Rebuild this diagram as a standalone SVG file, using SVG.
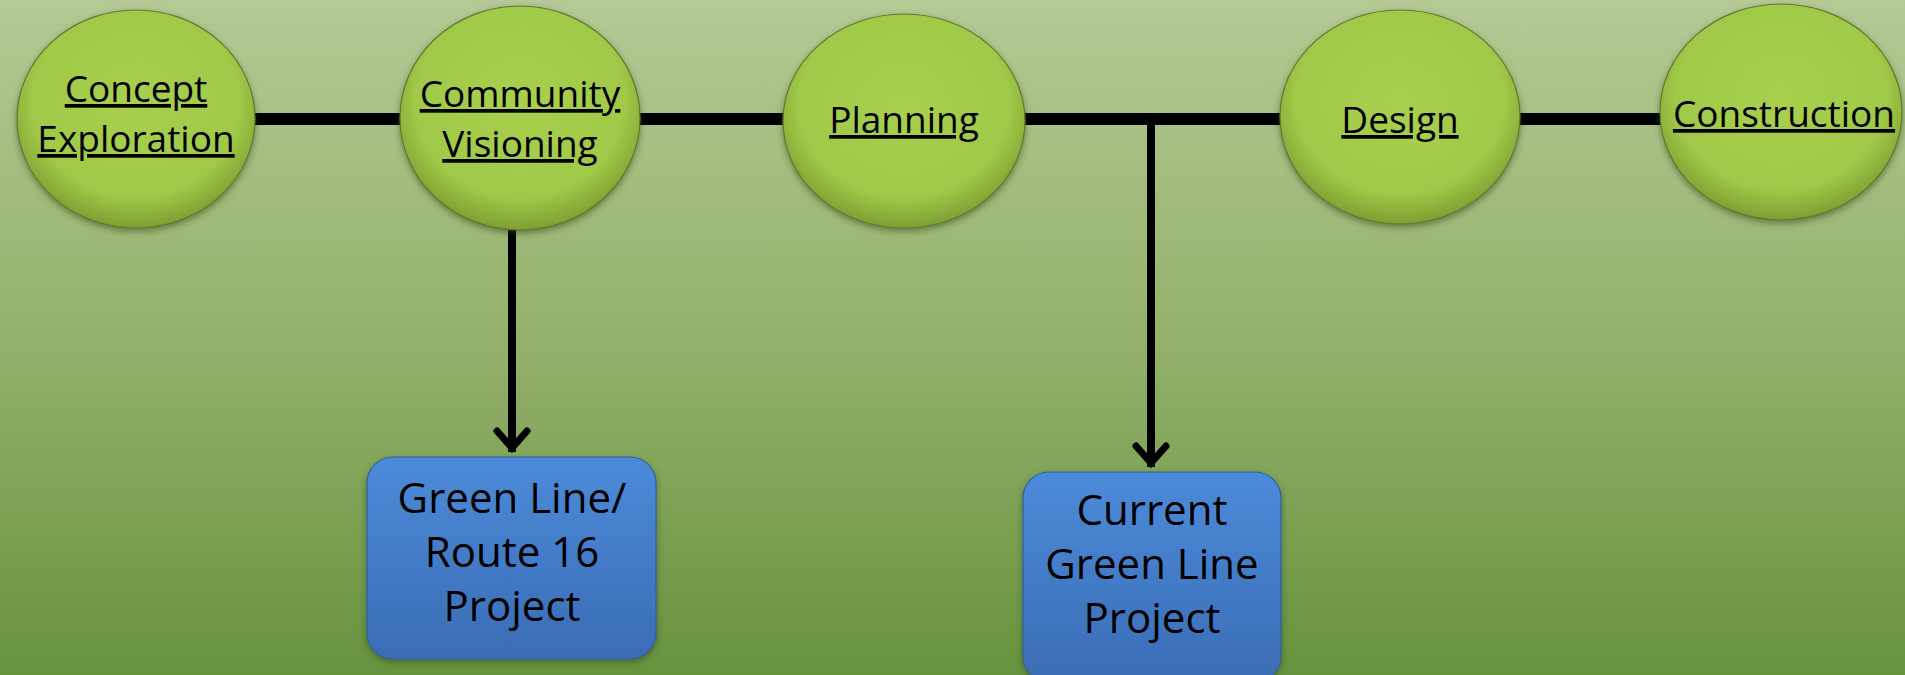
<svg xmlns="http://www.w3.org/2000/svg" width="1905" height="675" viewBox="0 0 1905 675">
<defs>
<linearGradient id="bg" x1="0" y1="0" x2="0" y2="1">
<stop offset="0" stop-color="#b4c995"/>
<stop offset="0.45" stop-color="#98b46f"/>
<stop offset="1" stop-color="#67933f"/>
</linearGradient>
<radialGradient id="ball" cx="0.5" cy="0.42" r="0.58">
<stop offset="0" stop-color="#a8d04e"/>
<stop offset="0.75" stop-color="#a0c948"/>
<stop offset="1" stop-color="#7f9f32"/>
</radialGradient>
<linearGradient id="box" x1="0" y1="0" x2="0" y2="1">
<stop offset="0" stop-color="#4c8bd9"/>
<stop offset="1" stop-color="#3a6cb5"/>
</linearGradient>
<filter id="sh" x="-20%" y="-20%" width="140%" height="140%">
<feDropShadow dx="0" dy="3" stdDeviation="3" flood-color="#2a3a10" flood-opacity="0.5"/>
</filter>
<marker id="arr" viewBox="0 0 30 40" refX="25" refY="20" markerUnits="userSpaceOnUse" markerWidth="30" markerHeight="40" orient="auto">
<path d="M4,5 L21,20 L4,35" fill="none" stroke="#000" stroke-width="7" stroke-linecap="round" stroke-linejoin="miter"/>
</marker>
</defs>
<style>
.node ellipse{fill:url(#ball);stroke:#5f7a2a;stroke-width:1.2;filter:url(#sh)}
.node rect{fill:url(#box);stroke:#34619e;stroke-width:1.2;filter:url(#sh)}
.lbl{font-family:"Open Sans","Liberation Sans",sans-serif;font-size:37px;fill:#000;text-anchor:middle;text-decoration:underline}
.blbl{font-family:"Open Sans","Liberation Sans",sans-serif;font-size:42px;fill:#000;text-anchor:middle}
.main{stroke:#000;stroke-width:12;fill:none}
.drop{stroke:#000;stroke-width:8;fill:none}
</style>
<rect x="0" y="0" width="1905" height="675" fill="url(#bg)"/>
<g id="connectors">
<line class="main" x1="250" y1="119" x2="1670" y2="119"/>
<line class="drop" x1="512" y1="228" x2="512" y2="452" marker-end="url(#arr)"/>
<line class="drop" x1="1151" y1="119" x2="1151" y2="467" marker-end="url(#arr)"/>
</g>
<g id="concept" class="node">
<ellipse cx="136" cy="119" rx="119" ry="109"/>
<text class="lbl" x="136" y="102">Concept</text>
<text class="lbl" x="136" y="152">Exploration</text>
</g>
<g id="community" class="node">
<ellipse cx="520" cy="118" rx="120" ry="112"/>
<text class="lbl" x="520" y="107">Community</text>
<text class="lbl" x="520" y="157">Visioning</text>
</g>
<g id="planning" class="node">
<ellipse cx="904" cy="121" rx="121" ry="107"/>
<text class="lbl" x="904" y="133">Planning</text>
</g>
<g id="design" class="node">
<ellipse cx="1400" cy="117" rx="120" ry="107"/>
<text class="lbl" x="1400" y="133">Design</text>
</g>
<g id="construction" class="node">
<ellipse cx="1781" cy="112" rx="121" ry="108"/>
<text class="lbl" x="1784" y="127">Construction</text>
</g>
<g id="greenline16" class="node">
<rect x="367" y="457" width="289" height="202" rx="26"/>
<text class="blbl" x="512" y="513">Green Line/</text>
<text class="blbl" x="512" y="567">Route 16</text>
<text class="blbl" x="512" y="621">Project</text>
</g>
<g id="currentgreen" class="node">
<rect x="1023" y="472" width="258" height="210" rx="26"/>
<text class="blbl" x="1152" y="525">Current</text>
<text class="blbl" x="1152" y="579">Green Line</text>
<text class="blbl" x="1152" y="633">Project</text>
</g>
</svg>
